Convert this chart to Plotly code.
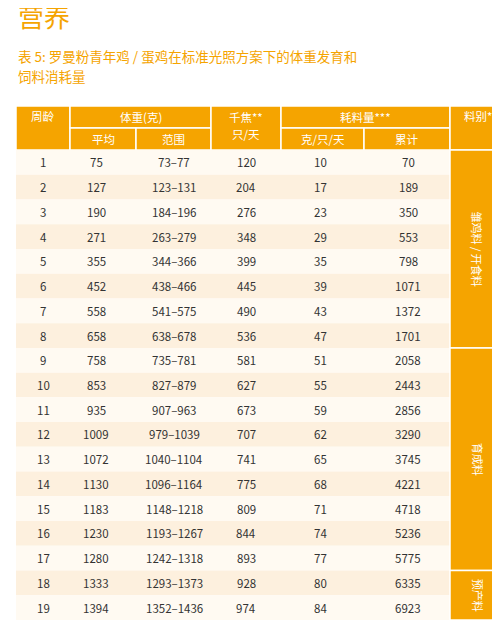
import plotly.graph_objects as go

weeks = list(range(1, 20))
avg_weight = [75, 127, 190, 271, 355, 452, 558, 658, 758, 853, 935, 1009, 1072, 1130, 1183, 1230, 1280, 1333, 1394]
weight_range = ["73–77", "123–131", "184–196", "263–279", "344–366", "438–466", "541–575", "638–678",
                "735–781", "827–879", "907–963", "979–1039", "1040–1104", "1096–1164", "1148–1218",
                "1193–1267", "1242–1318", "1293–1373", "1352–1436"]
kj = [120, 204, 276, 348, 399, 445, 490, 536, 581, 627, 673, 707, 741, 775, 809, 844, 893, 928, 974]
feed_day = [10, 17, 23, 29, 35, 39, 43, 47, 51, 55, 59, 62, 65, 68, 71, 74, 77, 80, 84]
feed_cum = [70, 189, 350, 553, 798, 1071, 1372, 1701, 2058, 2443, 2856, 3290, 3745, 4221, 4718, 5236, 5775, 6335, 6923]
feed_types = [("雏鸡料 / 开食料", 1, 8), ("育成料", 9, 17), ("预产料", 18, 19)]

ORANGE = "#f5a400"
FONT = "Noto Sans CJK SC"
cols = [8, 62, 128, 203, 273, 356, 442, 497]
h0, h1, top = 106, 128, 150
rh = (620 - top) / 19

fig = go.Figure()
shapes, ann = [], []

def rect(x0, y0, x1, y1, color):
    shapes.append(dict(type="rect", xref="x", yref="y", x0=x0, y0=y0, x1=x1, y1=y1,
                       fillcolor=color, line=dict(color="white", width=1.5), layer="below"))

def txt(x, y, s, color="#333", size=11.5, angle=0):
    ann.append(dict(x=x, y=y, xref="x", yref="y", text=s, showarrow=False, textangle=angle,
                    font=dict(color=color, size=size, family=FONT)))

# header
rect(cols[0], h0, cols[1], top, ORANGE); txt((cols[0]+cols[1])/2, 116, "周龄", "white")
rect(cols[1], h0, cols[3], h1, ORANGE); txt((cols[1]+cols[3])/2, 117, "体重(克)", "white")
rect(cols[1], h1, cols[2], top, ORANGE); txt((cols[1]+cols[2])/2, 139, "平均", "white")
rect(cols[2], h1, cols[3], top, ORANGE); txt((cols[2]+cols[3])/2, 139, "范围", "white")
rect(cols[3], h0, cols[4], top, ORANGE)
txt((cols[3]+cols[4])/2, 117, "千焦**", "white"); txt((cols[3]+cols[4])/2, 134, "只/天", "white")
rect(cols[4], h0, cols[6], h1, ORANGE); txt((cols[4]+cols[6])/2, 117, "耗料量***", "white")
rect(cols[4], h1, cols[5], top, ORANGE); txt((cols[4]+cols[5])/2, 139, "克/只/天", "white")
rect(cols[5], h1, cols[6], top, ORANGE); txt((cols[5]+cols[6])/2, 139, "累计", "white")
rect(cols[6], h0, cols[7], top, ORANGE); txt((cols[6]+cols[7])/2, 116, "料别*", "white")

# body
for i, w in enumerate(weeks):
    y0 = top + i * rh
    shapes.append(dict(type="rect", xref="x", yref="y", x0=cols[0], x1=cols[6], y0=y0, y1=y0 + rh,
                       fillcolor="#fffaf2" if i % 2 == 0 else "#fdf0de", line=dict(width=0), layer="below"))
    yc = y0 + rh / 2
    vals = [w, avg_weight[i], weight_range[i], kj[i], feed_day[i], feed_cum[i]]
    xs = [35, 88, 166, 238, 312, 400]
    for x, v in zip(xs, vals):
        txt(x, yc, str(v))

for name, a, b in feed_types:
    y0 = top + (a - 1) * rh
    y1 = top + b * rh
    rect(cols[6], y0, cols[7], y1, ORANGE)
    txt((cols[6]+cols[7])/2, (y0+y1)/2, name, "white", 11, 90)

txt(8, 15, "营养", ORANGE, 26)
ann[-1].update(xanchor="left")
txt(8, 56, "表 5: 罗曼粉青年鸡 / 蛋鸡在标准光照方案下的体重发育和", ORANGE, 13.5)
ann[-1].update(xanchor="left")
txt(8, 76, "饲料消耗量", ORANGE, 13.5)
ann[-1].update(xanchor="left")

fig.update_layout(width=500, height=625, margin=dict(l=0, r=0, t=0, b=0),
                  plot_bgcolor="white", paper_bgcolor="white",
                  shapes=shapes, annotations=ann, showlegend=False)
fig.update_xaxes(range=[0, 500], visible=False, fixedrange=True)
fig.update_yaxes(range=[633, 8], visible=False, fixedrange=True)
fig.write_html("out.html")
